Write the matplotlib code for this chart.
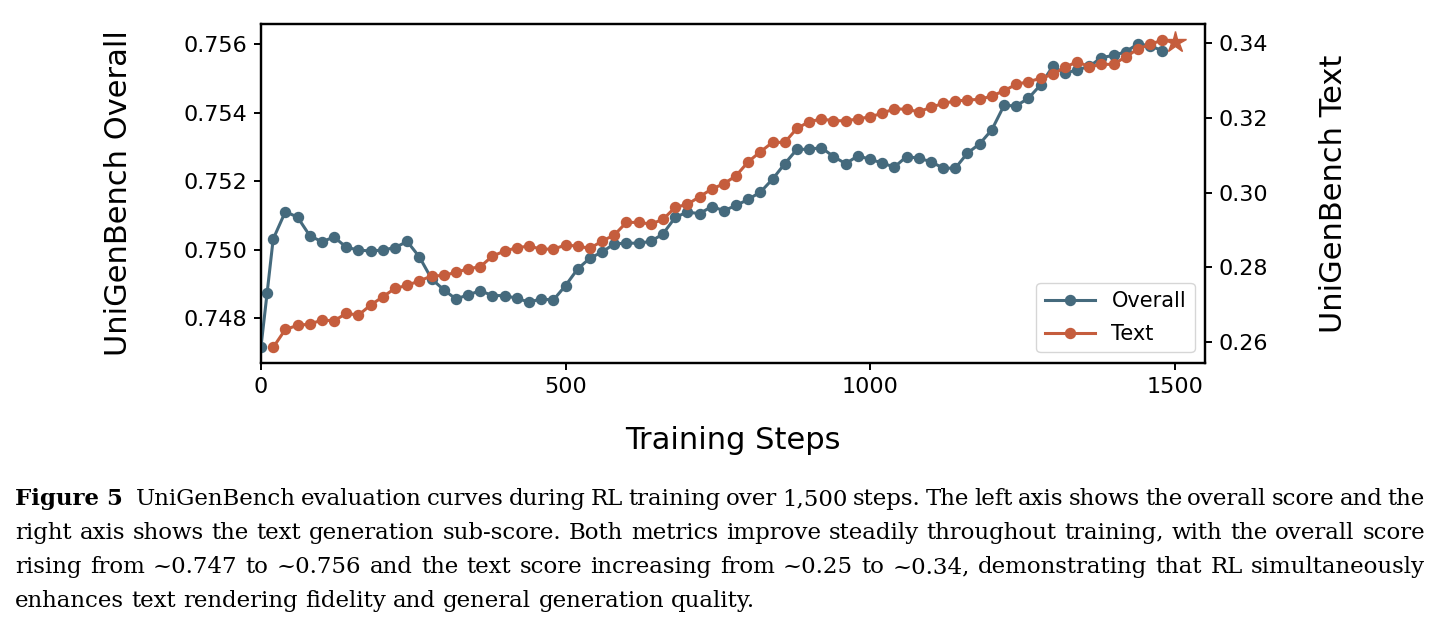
import matplotlib
matplotlib.use("Agg")
import matplotlib.pyplot as plt

# ---------------- data ----------------
overall_steps = [0, 10] + list(range(20, 1481, 20))
overall_vals = [
    0.74717, 0.74873, 0.75031, 0.75111, 0.75095, 0.75041, 0.75023, 0.75037,
    0.75007, 0.74999, 0.74996, 0.74999, 0.75006, 0.75024, 0.74979, 0.74915,
    0.74883, 0.74856, 0.74868, 0.74880, 0.74866, 0.74866, 0.74858, 0.74847,
    0.74856, 0.74853, 0.74895, 0.74944, 0.74975, 0.74993, 0.75017, 0.75019,
    0.75019, 0.75024, 0.75046, 0.75094, 0.75110, 0.75105, 0.75126, 0.75114,
    0.75129, 0.75147, 0.75168, 0.75206, 0.75251, 0.75293, 0.75293, 0.75298,
    0.75272, 0.75251, 0.75274, 0.75264, 0.75253, 0.75241, 0.75272, 0.75267,
    0.75257, 0.75238, 0.75238, 0.75282, 0.75309, 0.75350, 0.75421, 0.75420,
    0.75442, 0.75481, 0.75535, 0.75515, 0.75525, 0.75535, 0.75561, 0.75567,
    0.75578, 0.75601, 0.75595, 0.75581,
]
text_steps = list(range(20, 1501, 20))
text_vals = [
    0.2585, 0.26332, 0.26440, 0.26475, 0.26582, 0.26563, 0.26761, 0.26716,
    0.26984, 0.27206, 0.27432, 0.27512, 0.27635, 0.27761, 0.27780, 0.27861,
    0.27957, 0.28011, 0.28298, 0.28432, 0.28520, 0.28566, 0.28485, 0.28485,
    0.28592, 0.28566, 0.28504, 0.28700, 0.28861, 0.29201, 0.29201, 0.29156,
    0.29281, 0.29603, 0.29684, 0.29887, 0.30094, 0.30236, 0.30450, 0.30826,
    0.31094, 0.31346, 0.31346, 0.31721, 0.31898, 0.31971, 0.31925, 0.31925,
    0.31971, 0.32032, 0.32123, 0.32248, 0.32230, 0.32166, 0.32284, 0.32391,
    0.32453, 0.32480, 0.32499, 0.32587, 0.32729, 0.32901, 0.32971, 0.33062,
    0.33170, 0.33356, 0.33507, 0.33373, 0.33437, 0.33437, 0.33641, 0.33847,
    0.33973, 0.34088, 0.34043,
]
x_ticks = [0, 500, 1000, 1500]
left_ticks = [0.748, 0.750, 0.752, 0.754, 0.756]
right_ticks = [0.26, 0.28, 0.30, 0.32, 0.34]
series_labels = ["Overall", "Text"]
x_label = "Training Steps"
left_label = "UniGenBench Overall"
right_label = "UniGenBench Text"

caption_lines = [
    "UniGenBench evaluation curves during RL training over 1,500 steps. The left axis shows the overall score and the",
    "right axis shows the text generation sub-score. Both metrics improve steadily throughout training, with the overall score",
    "rising from ~0.747 to ~0.756 and the text score increasing from ~0.25 to ~0.34, demonstrating that RL simultaneously",
    "enhances text rendering fidelity and general generation quality.",
]
caption_head = "Figure 5"

# ---------------- style ----------------
BLUE = "#456A7D"
ORANGE = "#C55D3D"
W, H = 1443, 632
DPI = 100

plt.rcParams["font.family"] = ["DejaVu Sans"]
fig = plt.figure(figsize=(W / DPI, H / DPI), dpi=DPI)
ax = fig.add_axes([261 / W, 1 - 362.7 / H, (1205 - 261) / W, (362.7 - 24.3) / H])
ax2 = ax.twinx()

ms = 7.2
lw = 2.2
l1, = ax.plot(overall_steps, overall_vals, color=BLUE, lw=lw, marker="o", ms=ms,
              label=series_labels[0], zorder=3)
n = len(text_steps)
l2, = ax2.plot(text_steps, text_vals, color=ORANGE, lw=lw, marker="o", ms=ms,
               markevery=list(range(n - 1)), label=series_labels[1], zorder=3)
ax2.plot(text_steps[-1:], text_vals[-1:], color=ORANGE, marker="*", ms=16, lw=0, zorder=4)

ax.set_xlim(0, 1550)
ax.set_ylim(0.74670, 0.75658)
ax2.set_ylim(0.2544, 0.3451)
ax.set_xticks(x_ticks)
ax.set_yticks(left_ticks)
ax2.set_yticks(right_ticks)
ax.set_yticklabels([f"{v:.3f}" for v in left_ticks])
ax2.set_yticklabels([f"{v:.2f}" for v in right_ticks])

for a in (ax, ax2):
    a.tick_params(labelsize=16, width=1.4, length=5, pad=5)
    for s in a.spines.values():
        s.set_linewidth(1.6)

ax.set_xlabel(x_label, fontsize=22, labelpad=21)
ax.set_ylabel(left_label, fontsize=22, labelpad=36)
ax2.set_ylabel(right_label, fontsize=22, labelpad=36)

leg = ax2.legend([l1, l2], series_labels, loc="lower right", fontsize=15,
                 frameon=True, fancybox=True, framealpha=0.8, edgecolor="#cccccc",
                 borderaxespad=0.5, handlelength=2.4, labelspacing=0.6)

# ---------------- caption (justified) ----------------
fig.canvas.draw()
rend = fig.canvas.get_renderer()
cap_fs = 16.5
cap_family = "DejaVu Serif"
left_px, right_px = 15, 1425
baselines = [505, 539, 573, 607]

def word_width(txt, weight="normal"):
    t = fig.text(0, 0, txt, fontsize=cap_fs, family=cap_family, weight=weight)
    w = t.get_window_extent(renderer=rend).width
    t.remove()
    return w

space_w = word_width("a b") - word_width("ab")
for i, line in enumerate(caption_lines):
    words = line.split(" ")
    tokens = [(w, "normal") for w in words]
    extra = [0.0] * len(tokens)
    if i == 0:
        tokens = [(caption_head, "bold")] + tokens
        extra = [8.0] + [0.0] * len(words)
    widths = [word_width(t, wt) for t, wt in tokens]
    y = 1 - baselines[i] / H
    justify = i < len(caption_lines) - 1
    if justify:
        gap = (right_px - left_px - sum(widths) - sum(extra)) / (len(tokens) - 1)
        gap = max(gap, 2.0)
    else:
        gap = space_w
    x = left_px
    for (t, wt), w, e in zip(tokens, widths, extra):
        fig.text(x / W, y, t, fontsize=cap_fs, family=cap_family, weight=wt,
                 va="baseline", ha="left")
        x += w + gap + e

fig.savefig("out.png", dpi=DPI)
